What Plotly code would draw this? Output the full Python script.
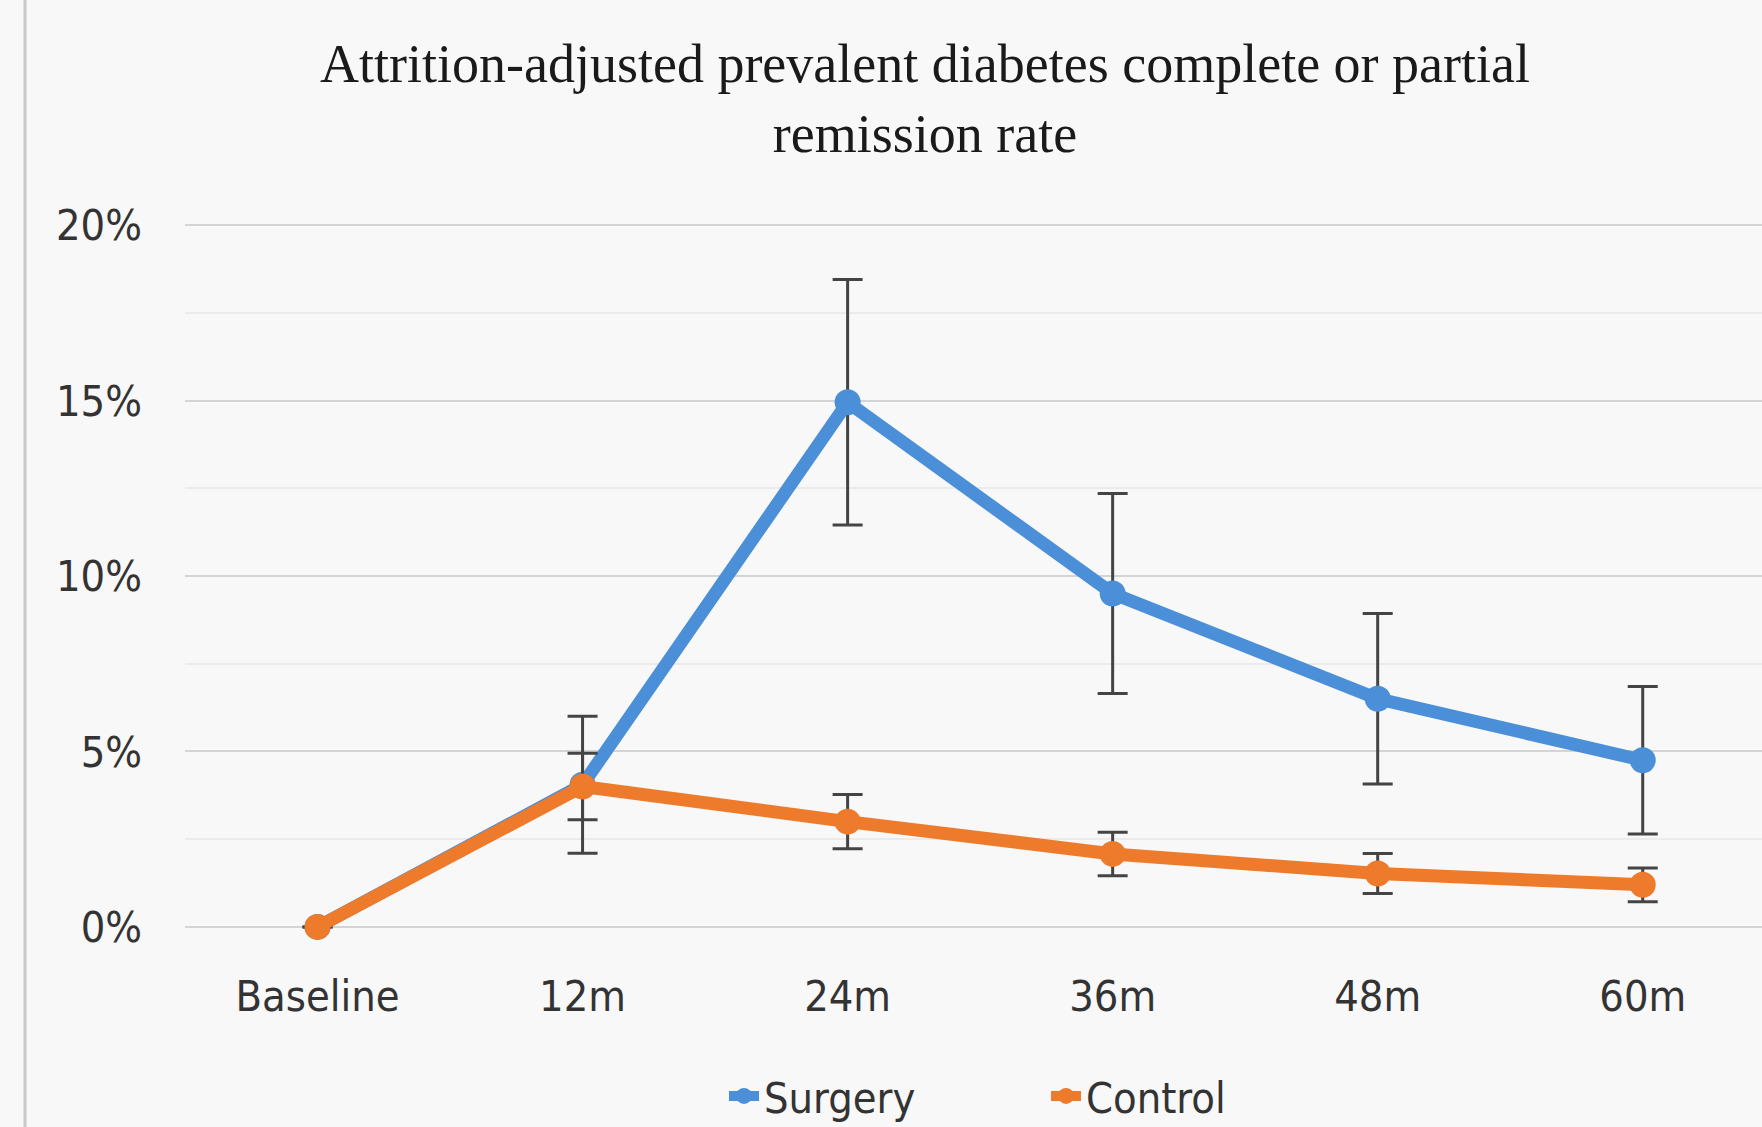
import plotly.graph_objects as go

categories = ["Baseline", "12m", "24m", "36m", "48m", "60m"]
surgery = [0.0, 4.05, 14.95, 9.5, 6.5, 4.75]
surgery_err = [0.0, 1.95, 3.5, 2.85, 2.43, 2.1]
control = [0.0, 4.0, 3.0, 2.08, 1.52, 1.2]
control_err = [0.0, 0.95, 0.77, 0.62, 0.57, 0.48]
y_ticks = [0, 5, 10, 15, 20]
y_tick_labels = ["0%", "5%", "10%", "15%", "20%"]

W, H = 1762, 1127
tick_font = dict(family="Liberation Sans Narrow, DejaVu Sans Condensed, Open Sans, sans-serif", size=43, color="#333333")

fig = go.Figure()
fig.add_trace(go.Scatter(
    x=categories, y=surgery, name="Surgery", mode="lines+markers",
    line=dict(color="#4a8fd8", width=13),
    marker=dict(color="#4a8fd8", size=26),
    error_y=dict(type="data", array=surgery_err, color="#444444", thickness=3, width=15),
    cliponaxis=False, legend="legend",
))
fig.add_trace(go.Scatter(
    x=categories, y=control, name="Control", mode="lines+markers",
    line=dict(color="#ee7a2c", width=13),
    marker=dict(color="#ee7a2c", size=26),
    error_y=dict(type="data", array=control_err, color="#444444", thickness=3, width=15),
    cliponaxis=False, legend="legend2",
))

fig.update_layout(
    width=W, height=H,
    margin=dict(l=185, r=0, t=223, b=198),
    paper_bgcolor="#f8f8f8",
    plot_bgcolor="#f8f8f8",
    title=dict(
        text="Attrition-adjusted prevalent diabetes complete or partial<br>remission rate",
        font=dict(family="Liberation Serif, Times New Roman, serif", size=54, color="#1a1a1a"),
        x=925 / W, xanchor="center", xref="container",
        y=1 - 82 / H, yanchor="top", yref="container",
    ),
    showlegend=True,
    legend=dict(
        orientation="h", x=921 / W, xanchor="right", xref="container",
        y=1 - 1096 / H, yanchor="middle", yref="container",
        font=tick_font, bgcolor="rgba(0,0,0,0)",
    ),
    legend2=dict(
        orientation="h", x=1231 / W, xanchor="right", xref="container",
        y=1 - 1096 / H, yanchor="middle", yref="container",
        font=tick_font, bgcolor="rgba(0,0,0,0)",
    ),
    xaxis=dict(
        type="category", range=[-0.5, 5.45], showgrid=False, zeroline=False,
        showline=False, tickfont=tick_font, ticks="", ticklabelstandoff=38,
    ),
    yaxis=dict(
        range=[-0.06, 20.06], tickvals=y_ticks, ticktext=y_tick_labels,
        showgrid=True, gridcolor="#d4d4d4", gridwidth=2, zeroline=False,
        tickfont=tick_font, ticks="", ticklabelstandoff=42,
        minor=dict(tickvals=[2.5, 7.5, 12.5, 17.5], showgrid=True, gridcolor="#ebebeb", gridwidth=2),
    ),
    shapes=[
        dict(type="line", xref="paper", yref="paper", x0=-160 / (W - 185), x1=-160 / (W - 185),
             y0=-1.0, y1=1.5, line=dict(color="#c8c8c8", width=3)),
    ],
)

fig.write_html("out.html")
